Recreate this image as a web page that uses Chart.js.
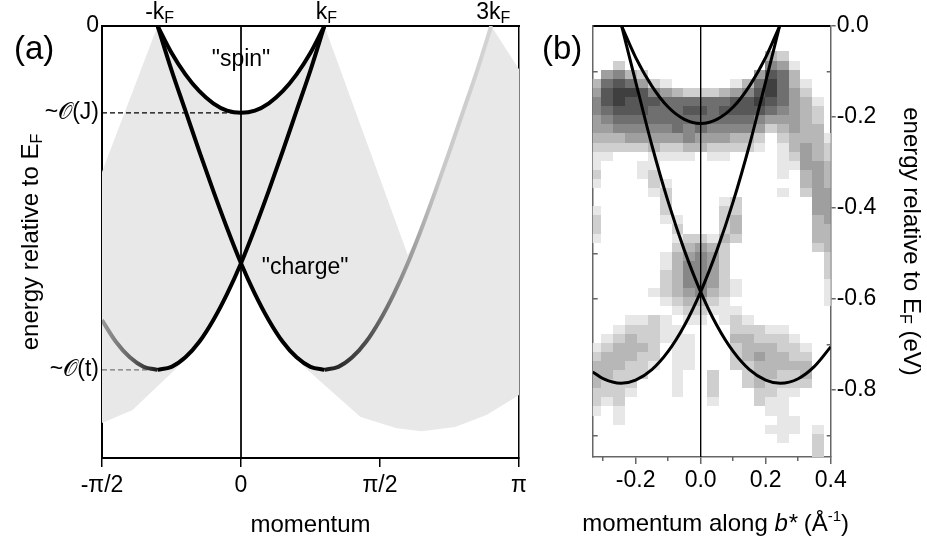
<!DOCTYPE html>
<html>
<head>
<meta charset="utf-8">
<script src="https://cdn.jsdelivr.net/npm/chart.js@4.4.0/dist/chart.umd.min.js"></script>
<style>
  html, body { margin: 0; padding: 0; background: #fff; }
  #wrap { position: relative; width: 927px; height: 540px; }
  canvas { position: absolute; left: 0; top: 0; }
</style>
</head>
<body>
<div id="wrap">
  <canvas id="chart-a" width="927" height="540"></canvas>
  <canvas id="chart-b" width="927" height="540"></canvas>
</div>
<script>
/* ── PANEL (a): model dispersion, momentum in units of pi ── */
const A_XTICKS  = [-0.5, 0, 0.5, 1];
const A_XLABELS = ['-\u03c0/2', '0', '\u03c0/2', '\u03c0'];
const A_YTICKS  = [0, -0.201, -0.796];
const A_YLABELS = ['0', '~\ud835\udcaa(J)', '~\ud835\udcaa(t)'];
const A_TOP_K   = [-0.3, 0.3, 0.9];
const A_TOP_TXT = ['-k', 'k', '3k'];

const A_K_SPIN = [-0.3, -0.25, -0.2, -0.15, -0.1, -0.05, 0, 0.05, 0.1, 0.15, 0.2, 0.25, 0.3];
const A_E_SPIN = [0, -0.062, -0.112, -0.151, -0.179, -0.196, -0.201, -0.196, -0.179, -0.151, -0.112, -0.062, 0];

// charge branch with its minimum at +kF (runs from -kF to 3kF)
const A_K_CHG1 = [-0.3, -0.25, -0.2, -0.15, -0.1, -0.05, 0, 0.05, 0.1, 0.15, 0.2, 0.25, 0.3,
                  0.35, 0.4, 0.45, 0.5, 0.55, 0.6, 0.65, 0.7, 0.75, 0.8, 0.85, 0.9];
const A_E_CHG1 = [0, -0.102, -0.196, -0.290, -0.381, -0.468, -0.549, -0.620, -0.681, -0.731, -0.767, -0.789, -0.796,
                  -0.789, -0.767, -0.731, -0.681, -0.620, -0.549, -0.468, -0.381, -0.290, -0.196, -0.102, 0];
// charge branch with its minimum at -kF
const A_K_CHG2 = [-0.5, -0.45, -0.4, -0.35, -0.3, -0.25, -0.2, -0.15, -0.1, -0.05, 0, 0.05, 0.1, 0.15, 0.2, 0.25, 0.3];
const A_E_CHG2 = [-0.681, -0.731, -0.767, -0.789, -0.796, -0.789, -0.767, -0.731, -0.681, -0.620, -0.549, -0.468, -0.381, -0.290, -0.196, -0.102, 0];

// continuum (grey area): upper and lower edges
const A_UP_K = [-0.5, -0.3, -0.25, -0.2, -0.15, -0.1, -0.05, 0, 0.05, 0.1, 0.15, 0.2, 0.25, 0.3, 0.6, 0.65, 0.7, 0.75, 0.8, 0.85, 0.9, 1.0];
const A_UP_E = [-0.338, 0, -0.062, -0.112, -0.151, -0.179, -0.196, -0.201, -0.196, -0.179, -0.151, -0.112, -0.062, 0, -0.53, -0.468, -0.381, -0.290, -0.196, -0.102, 0, -0.10];
const A_LO_K = [-0.5, -0.39, -0.22, -0.2, -0.15, -0.1, -0.05, 0, 0.05, 0.1, 0.15, 0.2, 0.22, 0.3, 0.43, 0.56, 0.65, 0.77, 0.885, 1.0];
const A_LO_E = [-0.919, -0.889, -0.785, -0.767, -0.731, -0.681, -0.620, -0.549, -0.620, -0.681, -0.731, -0.767, -0.785, -0.831, -0.905, -0.931, -0.938, -0.928, -0.900, -0.854];

const A_OJ_K = [-0.5, 0];
const A_OJ_E = [-0.201, -0.201];
const A_OT_K = [-0.5, -0.3];
const A_OT_E = [-0.796, -0.796];
const A_ZERO_K = [0, 0];
const A_ZERO_E = [0, -1];

const A_NOTE_TXT = ['"spin"', '"charge"'];
const A_NOTE_K   = [0, 0.075];
const A_NOTE_E   = [-0.078, -0.56];

/* ── PANEL (b): ARPES map, momentum in 1/Angstrom, energy in eV ── */
const B_XTICKS   = [-0.2, 0, 0.2, 0.4];
const B_XLABELS  = ['-0.2', '0.0', '0.2', '0.4'];
const B_XMINOR   = [-0.3, -0.1, 0.1, 0.3];
const B_YTICKS   = [0, -0.2, -0.4, -0.6, -0.8];
const B_YLABELS  = ['0.0', '-0.2', '-0.4', '-0.6', '-0.8'];
const B_YMINOR   = [-0.1, -0.3, -0.5, -0.7, -0.9];
const B_YALL     = [-0.1, -0.2, -0.3, -0.4, -0.5, -0.6, -0.7, -0.8, -0.9];

const B_K_SPIN = [-0.243, -0.2, -0.15, -0.1, -0.05, 0, 0.05, 0.1, 0.15, 0.2, 0.243];
const B_E_SPIN = [0, -0.069, -0.132, -0.178, -0.205, -0.214, -0.205, -0.178, -0.132, -0.069, 0];
const B_K_CHG1 = [-0.243, -0.2, -0.15, -0.1, -0.05, 0, 0.05, 0.1, 0.15, 0.2, 0.245, 0.3, 0.35, 0.4];
const B_E_CHG1 = [0, -0.122, -0.262, -0.386, -0.493, -0.584, -0.658, -0.715, -0.755, -0.778, -0.785, -0.775, -0.748, -0.705];
const B_K_CHG2 = [-0.332, -0.3, -0.245, -0.2, -0.15, -0.1, -0.05, 0, 0.05, 0.1, 0.15, 0.2, 0.243];
const B_E_CHG2 = [-0.760, -0.775, -0.785, -0.778, -0.755, -0.715, -0.658, -0.584, -0.493, -0.386, -0.262, -0.122, 0];
const B_ZERO_K = [0, 0];
const B_ZERO_E = [0, -0.947];

// intensity map: column centres (k), row centres (E), grey level 0..9 per cell
const HEAT_K = [-0.323, -0.287, -0.251, -0.215, -0.179, -0.143, -0.107, -0.071, -0.035, 0.001, 0.037,
                0.073, 0.109, 0.145, 0.181, 0.217, 0.253, 0.289, 0.325, 0.361, 0.397];
const HEAT_E = [-0.026, -0.046, -0.066, -0.086, -0.106, -0.126, -0.146, -0.166, -0.186, -0.206,
                -0.226, -0.246, -0.266, -0.286, -0.306, -0.326, -0.346, -0.366, -0.386, -0.406,
                -0.426, -0.446, -0.466, -0.486, -0.506, -0.526, -0.546, -0.566, -0.586, -0.606,
                -0.626, -0.646, -0.666, -0.686, -0.706, -0.726, -0.746, -0.766, -0.786, -0.806,
                -0.826, -0.846, -0.866, -0.886, -0.906, -0.926, -0.946];
const HEAT_ROWS = [
  '000000000000000000000',
  '000000000000000000000',
  '000000000000000320000',
  '002000000000000541000',
  '045320000000004763000',
  '367642100000136863100',
  '478875432223457864200',
  '578777666666778764310',
  '567776667767777654320',
  '456666666666665444320',
  '445555565655554234330',
  '333444445444332023331',
  '222223223322221013432',
  '110001111011000012432',
  '100011000000000011443',
  '200012000000000010343',
  '100002100000000000343',
  '000001200000000010244',
  '000000200001200000044',
  '100000200002200000044',
  '200000110002300000034',
  '200000020002300000033',
  '100000012213200000033',
  '000000023432000000023',
  '000000134542000000002',
  '000000135542000000002',
  '000000235542000000002',
  '000000235542100000001',
  '000001234532100000001',
  '000000123321000000001',
  '000000012211100000000',
  '000112101101210000000',
  '001222110000222110000',
  '012322111000332221000',
  '123332011000233322100',
  '233322011000234332200',
  '333221011000223333300',
  '332220010020023322300',
  '322200010020023222200',
  '222100010020002211000',
  '212000000010002110000',
  '101000000000000110000',
  '001000000000000011000',
  '000000000000000111010',
  '000000000000000010020',
  '000000000000000000020',
  '000000000000000000020'
];

/* ── shared helpers ── */
const FONT = "'Liberation Sans', Arial, Helvetica, sans-serif";
const TITLE_PX = 24;
Chart.defaults.font.family = FONT;
Chart.defaults.font.size = 23;
Chart.defaults.color = '#000';
Chart.defaults.animation = false;
Chart.defaults.plugins.legend.display = false;
Chart.defaults.plugins.tooltip.enabled = false;

const pts = (ks, es) => ks.map((k, i) => ({ x: k, y: es[i] }));

function curve(ks, es, color, width, extra) {
  return Object.assign({
    data: pts(ks, es), showLine: true, fill: false,
    borderColor: color, borderWidth: width, pointRadius: 0,
    cubicInterpolationMode: 'monotone', borderJoinStyle: 'round'
  }, extra || {});
}

function tailGradient(chart, k0, k1, stops) {
  if (!chart.chartArea) return stops[0][1];
  const xs = chart.scales.x;
  const g = chart.ctx.createLinearGradient(xs.getPixelForValue(k0), 0, xs.getPixelForValue(k1), 0);
  stops.forEach(s => g.addColorStop(s[0], s[1]));
  return g;
}

// text made of runs: [text, size, dy, italic]
function drawRich(ctx, runs, x, y, align) {
  const f = r => (r[3] ? 'italic ' : '') + r[1] + 'px ' + FONT;
  let w = 0;
  runs.forEach(r => { ctx.font = f(r); w += ctx.measureText(r[0]).width; });
  let cx = align === 'center' ? x - w / 2 : align === 'right' ? x - w : x;
  ctx.textAlign = 'left';
  ctx.textBaseline = 'alphabetic';
  runs.forEach(r => { ctx.font = f(r); ctx.fillText(r[0], cx, y + r[2]); cx += ctx.measureText(r[0]).width; });
}

const fixTicks = vals => s => { s.ticks = vals.map(v => ({ value: v })); };
const noGrid = { display: false, drawTicks: false };

/* ── PANEL (a) ── */
const textA = {
  id: 'textA',
  afterDraw(chart) {
    const { ctx, chartArea: a, scales: { x, y } } = chart;
    ctx.save();
    ctx.fillStyle = '#000';
    drawRich(ctx, [['(a)', 33, 0]], 14, 59, 'left');
    A_TOP_K.forEach((k, i) => {
      drawRich(ctx, [[A_TOP_TXT[i], 23, 0], ['F', 16, 4]], x.getPixelForValue(k) + 2, a.top - 7, 'center');
    });
    ctx.font = '23px ' + FONT;
    ctx.textBaseline = 'middle';
    A_NOTE_TXT.forEach((t, i) => {
      ctx.textAlign = i === 0 ? 'center' : 'left';
      ctx.fillText(t, x.getPixelForValue(A_NOTE_K[i]), y.getPixelForValue(A_NOTE_E[i]));
    });
    ctx.translate(30, (a.top + a.bottom) / 2);
    ctx.rotate(-Math.PI / 2);
    drawRich(ctx, [['energy relative to E', TITLE_PX, 0], ['F', 16, 4]], 0, 8, 'center');
    ctx.restore();
  }
};

new Chart(document.getElementById('chart-a'), {
  type: 'scatter',
  data: {
    datasets: [
      curve(A_K_SPIN, A_E_SPIN, '#000', 4, { order: 1 }),
      curve(A_K_CHG1.slice(0, 13), A_E_CHG1.slice(0, 13), '#000', 4, { order: 1 }),
      curve(A_K_CHG2.slice(4), A_E_CHG2.slice(4), '#000', 4, { order: 1 }),
      curve(A_K_CHG1.slice(12), A_E_CHG1.slice(12), '#888', 4, {
        order: 2,
        borderColor: c => tailGradient(c.chart, 0.3, 0.9,
          [[0, '#1a1a1a'], [0.28, '#555'], [0.5, '#999'], [0.7, '#c8c8c8'], [1, '#d4d4d4']])
      }),
      curve(A_K_CHG2.slice(0, 5), A_E_CHG2.slice(0, 5), '#888', 4, {
        order: 2,
        borderColor: c => tailGradient(c.chart, -0.3, -0.5,
          [[0, '#1a1a1a'], [0.5, '#666'], [1, '#999']])
      }),
      curve(A_OJ_K, A_OJ_E, '#000', 1.2, { order: 3, borderDash: [5, 3], cubicInterpolationMode: 'default' }),
      curve(A_OT_K, A_OT_E, '#777', 1.2, { order: 3, borderDash: [5, 3], cubicInterpolationMode: 'default' }),
      curve(A_ZERO_K, A_ZERO_E, '#000', 1, { order: 4, cubicInterpolationMode: 'default' }),
      curve(A_UP_K, A_UP_E, 'rgba(0,0,0,0)', 0, {
        order: 9, fill: '+1', backgroundColor: '#e8e8e8', cubicInterpolationMode: 'default', tension: 0
      }),
      curve(A_LO_K, A_LO_E, 'rgba(0,0,0,0)', 0, { order: 10, cubicInterpolationMode: 'default', tension: 0 })
    ]
  },
  options: {
    responsive: false,
    layout: { padding: { left: 0, top: 26, right: 408, bottom: 0 } },
    plugins: { filler: { drawTime: 'beforeDatasetsDraw' } },
    scales: {
      x: {
        type: 'linear', position: 'bottom', min: -0.5, max: 1.0,
        afterBuildTicks: fixTicks(A_XTICKS),
        afterFit: s => { s.height = 82; },
        ticks: { callback: (v, i) => A_XLABELS[i], autoSkip: false, maxRotation: 0, padding: 5 },
        grid: { drawOnChartArea: false, drawTicks: true, tickLength: 9, color: '#000', tickColor: '#000', lineWidth: 1.5 },
        border: { display: true, color: '#000', width: 2 },
        title: { display: true, text: 'momentum', font: { size: TITLE_PX }, padding: { top: 0, bottom: 0 } }
      },
      xt: {
        type: 'linear', position: 'top', min: -0.5, max: 1.0,
        ticks: { display: false }, grid: noGrid,
        border: { display: true, color: '#000', width: 2 },
        afterFit: s => { s.height = 0; }
      },
      y: {
        type: 'linear', position: 'left', min: -1, max: 0,
        afterBuildTicks: fixTicks(A_YTICKS),
        afterFit: s => { s.width = 102; },
        ticks: { callback: (v, i) => A_YLABELS[i], autoSkip: false, padding: 3 },
        grid: noGrid,
        border: { display: true, color: '#000', width: 2 }
      },
      yr: {
        type: 'linear', position: 'right', min: -1, max: 0,
        ticks: { display: false }, grid: noGrid,
        border: { display: true, color: '#000', width: 1.5 },
        afterFit: s => { s.width = 0; }
      }
    }
  },
  plugins: [textA]
});

/* ── PANEL (b) ── */
const heatB = {
  id: 'heatB',
  beforeDatasetsDraw(chart) {
    const { ctx, chartArea: a, scales: { x, y } } = chart;
    const hw = (HEAT_K[1] - HEAT_K[0]) / 2;
    const hh = (HEAT_E[0] - HEAT_E[1]) / 2;
    ctx.save();
    ctx.beginPath();
    ctx.rect(a.left, a.top, a.right - a.left, a.bottom - a.top);
    ctx.clip();
    HEAT_ROWS.forEach((row, i) => {
      for (let j = 0; j < row.length; j++) {
        const v = +row[j];
        if (!v) continue;
        const g = 255 - 24 * v;
        ctx.fillStyle = 'rgb(' + g + ',' + g + ',' + g + ')';
        const x0 = Math.round(x.getPixelForValue(HEAT_K[j] - hw));
        const x1 = Math.round(x.getPixelForValue(HEAT_K[j] + hw));
        const y0 = Math.round(y.getPixelForValue(HEAT_E[i] + hh));
        const y1 = Math.round(y.getPixelForValue(HEAT_E[i] - hh));
        ctx.fillRect(x0, y0, x1 - x0, y1 - y0);
      }
    });
    ctx.restore();
  }
};

const textB = {
  id: 'textB',
  afterDraw(chart) {
    const { ctx, chartArea: a } = chart;
    ctx.save();
    ctx.fillStyle = '#000';
    drawRich(ctx, [['(b)', 33, 0]], 542, 59, 'left');
    drawRich(ctx, [['momentum along ', TITLE_PX, 0], ['b*', TITLE_PX, 0, true], [' (\u00c5', TITLE_PX, 0], ['-1', 15, -10], [')', TITLE_PX, 0]],
      (a.left + a.right) / 2 + 4, 531, 'center');
    ctx.translate(904, (a.top + a.bottom) / 2);
    ctx.rotate(Math.PI / 2);
    drawRich(ctx, [['energy relative to E', TITLE_PX, 0], ['F', 16, 4], [' (eV)', TITLE_PX, 0]], 0, 0, 'center');
    ctx.restore();
  }
};

const GREY_AX = '#666';

new Chart(document.getElementById('chart-b'), {
  type: 'scatter',
  data: {
    datasets: [
      curve(B_K_SPIN, B_E_SPIN, '#000', 3, { order: 1 }),
      curve(B_K_CHG1, B_E_CHG1, '#000', 3, { order: 1 }),
      curve(B_K_CHG2, B_E_CHG2, '#000', 3, { order: 1 }),
      curve(B_ZERO_K, B_ZERO_E, '#000', 1, { order: 4, cubicInterpolationMode: 'default' })
    ]
  },
  options: {
    responsive: false,
    layout: { padding: { left: 592.7, top: 26, right: 0, bottom: 0 } },
    scales: {
      x: {
        type: 'linear', position: 'bottom', min: -0.332, max: 0.4, weight: 1,
        afterBuildTicks: fixTicks(B_XTICKS),
        afterFit: s => { s.height = 83; },
        ticks: { callback: (v, i) => B_XLABELS[i], autoSkip: false, maxRotation: 0, padding: 3 },
        grid: { drawOnChartArea: false, drawTicks: true, tickLength: 7, color: GREY_AX, tickColor: GREY_AX, lineWidth: 1.5 },
        border: { display: true, color: GREY_AX, width: 1.5 }
      },
      xm: {
        type: 'linear', position: 'bottom', min: -0.332, max: 0.4, weight: 0,
        afterBuildTicks: fixTicks(B_XMINOR),
        afterFit: s => { s.height = 0; },
        ticks: { display: false },
        grid: { drawOnChartArea: false, drawTicks: true, tickLength: 4, color: GREY_AX, tickColor: GREY_AX, lineWidth: 1.5 },
        border: { display: false }
      },
      xt: {
        type: 'linear', position: 'top', min: -0.332, max: 0.4,
        ticks: { display: false }, grid: noGrid,
        border: { display: true, color: '#000', width: 2 },
        afterFit: s => { s.height = 0; }
      },
      y: {
        type: 'linear', position: 'right', min: -0.947, max: 0, weight: 1,
        afterBuildTicks: fixTicks(B_YTICKS),
        afterFit: s => { s.width = 96.3; },
        ticks: { callback: (v, i) => B_YLABELS[i], autoSkip: false, padding: 1 },
        grid: { drawOnChartArea: false, drawTicks: true, tickLength: 5, color: GREY_AX, tickColor: GREY_AX, lineWidth: 1.5 },
        border: { display: true, color: GREY_AX, width: 1.5 }
      },
      ym: {
        type: 'linear', position: 'right', min: -0.947, max: 0, weight: 0,
        afterBuildTicks: fixTicks(B_YMINOR),
        afterFit: s => { s.width = 0; },
        ticks: { display: false },
        grid: { drawOnChartArea: false, drawTicks: true, tickLength: -4, color: GREY_AX, tickColor: GREY_AX, lineWidth: 1.5 },
        border: { display: false }
      },
      yl: {
        type: 'linear', position: 'left', min: -0.947, max: 0,
        afterBuildTicks: fixTicks(B_YALL),
        afterFit: s => { s.width = 0; },
        ticks: { display: false },
        grid: { drawOnChartArea: false, drawTicks: true, tickLength: -5, color: GREY_AX, tickColor: GREY_AX, lineWidth: 1.5 },
        border: { display: true, color: GREY_AX, width: 1.5 }
      }
    }
  },
  plugins: [heatB, textB]
});
</script>
</body>
</html>
